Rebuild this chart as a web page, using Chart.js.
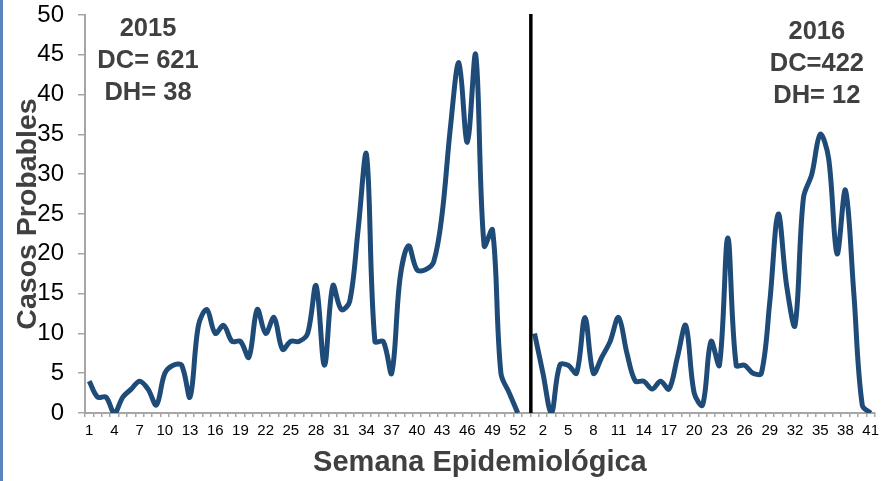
<!DOCTYPE html>
<html>
<head>
<meta charset="utf-8">
<script src="https://cdn.jsdelivr.net/npm/chart.js@4"></script>
<style>
    html, body { margin: 0; padding: 0; background: #fff; }
    #wrap { position: relative; width: 884px; height: 481px; }
    #wrap:before { content: ''; position: absolute; left: 0; top: 0; bottom: 0; width: 3px; background: #5b83bd; }
</style>
</head>
<body>
<div id="wrap"><canvas id="myChart" width="884" height="481"></canvas></div>
<script>
const weeks2015 = ['1','2','3','4','5','6','7','8','9','10','11','12','13','14','15','16','17','18','19','20','21','22','23','24','25','26','27','28','29','30','31','32','33','34','35','36','37','38','39','40','41','42','43','44','45','46','47','48','49','50','51','52'];
const weeks2016 = ['1','2','3','4','5','6','7','8','9','10','11','12','13','14','15','16','17','18','19','20','21','22','23','24','25','26','27','28','29','30','31','32','33','34','35','36','37','38','39','40','41'];
const cases2015 = [4, 2, 2, 0, 2, 3, 4, 3, 1, 5, 6, 6, 2, 11, 13, 10, 11, 9, 9, 7, 13, 10, 12, 8, 9, 9, 10, 16, 6, 16, 13, 14, 23, 32.5, 9, 9, 5, 17, 21, 18, 18, 19, 25, 36, 44, 34, 45, 21, 23, 5, 2.5, 0];
const cases2016 = [10, 5, 0, 6, 6, 5, 12, 5, 7, 9, 12, 7.5, 4, 4, 3, 4, 3, 7, 11, 2.5, 1, 9, 6, 22, 6, 6, 5, 5, 14, 25, 16, 11, 27, 30, 35, 32, 20, 28, 15, 1, 0];
const note2015 = ['2015', 'DC= 621', 'DH= 38'];
const note2016 = ['2016', 'DC=422', 'DH= 12'];

// one empty category separates the two years
const labels = weeks2015.concat([''], weeks2016);
const values = cases2015.concat([null], cases2016);

const FONT = "'Liberation Sans', Arial, sans-serif";

const yearPlugin = {
    id: 'yearPlugin',
    afterDatasetsDraw(chart) {
        const ctx = chart.ctx;
        const x = chart.scales.x;
        const y = chart.scales.y;
        const area = chart.chartArea;

        // black divider between 2015 and 2016
        const lineX = (x.getPixelForValue(52) + x.getPixelForValue(53)) / 2 + 0.5;
        ctx.save();
        ctx.strokeStyle = '#000';
        ctx.lineWidth = 3.5;
        ctx.beginPath();
        ctx.moveTo(lineX, area.top - 1);
        ctx.lineTo(lineX, area.bottom);
        ctx.stroke();

        ctx.fillStyle = '#404040';
        ctx.font = 'bold 25.5px ' + FONT;
        ctx.textAlign = 'center';
        ctx.textBaseline = 'middle';
        note2015.forEach(function(t, i) {
            ctx.fillText(t, x.getPixelForValue(7), y.getPixelForValue(48.3) + i * 32);
        });
        note2016.forEach(function(t, i) {
            ctx.fillText(t, x.getPixelForValue(86.6), y.getPixelForValue(47.9) + i * 32);
        });
        ctx.restore();
    }
};

new Chart(document.getElementById('myChart'), {
    type: 'line',
    data: {
        labels: labels,
        datasets: [{
            data: values,
            borderColor: '#1f4b78',
            borderWidth: 5,
            pointRadius: 0,
            tension: 0.35,
            spanGaps: false,
            fill: false
        }]
    },
    options: {
        responsive: false,
        maintainAspectRatio: false,
        animation: false,
        layout: {
            padding: { left: 4, top: 15, right: 3, bottom: 0 }
        },
        plugins: {
            legend: { display: false },
            tooltip: { enabled: false }
        },
        scales: {
            x: {
                offset: true,
                grid: {
                    display: true,
                    offset: true,
                    drawOnChartArea: false,
                    drawTicks: true,
                    tickLength: 4,
                    color: '#a6a6a6',
                    lineWidth: 1.5
                },
                border: { display: true, color: '#a6a6a6', width: 2 },
                ticks: {
                    autoSkip: false,
                    maxRotation: 0,
                    minRotation: 0,
                    padding: 5,
                    color: '#000',
                    font: { family: FONT, size: 15 },
                    callback: function(value, index) {
                        return index % 3 === 0 ? labels[index] : '';
                    }
                },
                title: {
                    display: true,
                    text: 'Semana Epidemiológica',
                    color: '#404040',
                    font: { family: FONT, size: 29, weight: 'bold' },
                    padding: { top: 0, bottom: 1 }
                },
                afterFit: function(scale) { scale.height = 68; }
            },
            y: {
                min: 0,
                max: 50,
                grid: {
                    display: true,
                    drawOnChartArea: false,
                    drawTicks: true,
                    tickLength: 7,
                    color: '#a6a6a6',
                    lineWidth: 1.5
                },
                border: { display: true, color: '#a6a6a6', width: 2 },
                ticks: {
                    stepSize: 5,
                    padding: 14,
                    color: '#000',
                    font: { family: FONT, size: 24 }
                },
                title: {
                    display: true,
                    text: 'Casos Probables',
                    color: '#404040',
                    font: { family: FONT, size: 28.5, weight: 'bold' },
                    padding: { top: 7, bottom: 0 }
                },
                afterFit: function(scale) {
                    scale.width = 81;
                    scale.paddingTop = 0;
                    scale.paddingBottom = 0;
                }
            }
        }
    },
    plugins: [yearPlugin]
});
</script>
</body>
</html>
